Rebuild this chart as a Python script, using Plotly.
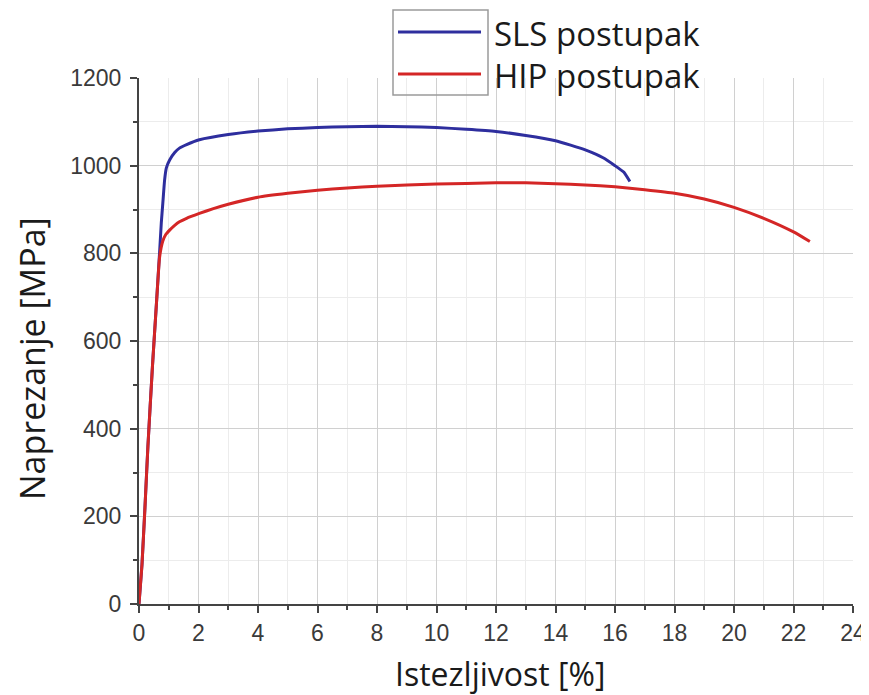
import plotly.graph_objects as go

# Data
sls_strain = [0, 0.1, 0.2, 0.3, 0.45, 0.6, 0.69, 0.75, 0.8, 0.86, 0.92, 1.03, 1.2, 1.36, 1.6, 2.03, 3, 4, 5, 6, 7, 8, 9, 10, 11, 12, 13, 14, 15, 15.6, 16, 16.3, 16.5]
sls_stress = [0, 90, 220, 360, 540, 700, 800, 870, 914, 967, 995, 1013, 1030, 1040, 1048, 1059, 1071, 1079, 1084, 1087, 1089, 1090, 1089, 1087, 1083, 1078, 1069, 1057, 1036, 1018, 1000, 985, 964]

hip_strain = [0, 0.1, 0.2, 0.3, 0.45, 0.6, 0.69, 0.8, 0.9, 1.03, 1.2, 1.36, 1.6, 2.03, 2.5, 3, 4, 5, 6, 7, 8, 10, 12, 13, 14, 15, 16, 17, 18, 19, 20, 21, 22, 22.55]
hip_stress = [0, 90, 220, 360, 540, 700, 790, 828, 843, 853, 864, 872, 880, 891, 902, 912, 928, 937, 944, 949, 953, 958, 961, 961, 959, 956, 952, 945, 937, 924, 905, 880, 849, 827]

series_names = ["SLS postupak", "HIP postupak"]
series_colors = ["#2e2e9e", "#d42626"]

x_ticks = list(range(0, 25, 2))
y_ticks = list(range(0, 1201, 200))

# The page body adds an 8px offset, so the figure is drawn 8px smaller and everything shifted by -8
OFF = 8
W, H = 869 - OFF, 695 - OFF
L, R, T, B = 139 - OFF, 853 - OFF, 78 - OFF, 604 - OFF

fig = go.Figure()
for xs, ys, c in [(sls_strain, sls_stress, series_colors[0]), (hip_strain, hip_stress, series_colors[1])]:
    fig.add_trace(go.Scatter(x=xs, y=ys, mode="lines", line=dict(color=c, width=3, shape="spline", smoothing=0.4),
                             showlegend=False, cliponaxis=False))

def px(xp):
    return (xp - OFF - L) / (R - L)
def py(yp):
    return (B - (yp - OFF)) / (B - T)

# Manual legend
fig.add_shape(type="rect", xref="paper", yref="paper", x0=px(393), x1=px(488), y0=py(95), y1=py(10),
              line=dict(color="#9a9a9a", width=1.5), fillcolor="rgba(0,0,0,0)")
for i, (name, c) in enumerate(zip(series_names, series_colors)):
    yy = [32, 74][i]
    fig.add_shape(type="line", xref="paper", yref="paper", x0=px(398), x1=px(481), y0=py(yy), y1=py(yy),
                  line=dict(color=c, width=3))
    fig.add_annotation(xref="paper", yref="paper", x=px(492), y=py(yy + 1), text=name, showarrow=False,
                       xanchor="left", yanchor="middle", font=dict(family="Open Sans", size=33, color="#1a1a1a"))

# Axis titles
fig.add_annotation(xref="paper", yref="paper", x=px(500), y=py(673), text="Istezljivost [%]", showarrow=False,
                   xanchor="center", yanchor="middle", font=dict(family="Open Sans", size=32, color="#1a1a1a"))
fig.add_annotation(xref="paper", yref="paper", x=px(32), y=py(359), text="Naprezanje [MPa]", showarrow=False,
                   textangle=-90, xanchor="center", yanchor="middle",
                   font=dict(family="Open Sans", size=34, color="#1a1a1a"))

axis_common = dict(showline=True, linecolor="#444", linewidth=2, ticks="outside", ticklen=7, tickwidth=2,
                   tickcolor="#444", showgrid=True, gridcolor="#d0d0d0", gridwidth=1.2, zeroline=False,
                   automargin=False,
                   tickfont=dict(family="Liberation Sans", size=23, color="#3a3a3a"),
                   minor=dict(showgrid=True, gridcolor="#ececec", ticks="outside", ticklen=4, tickcolor="#444", tickwidth=2))

fig.update_xaxes(range=[0, 24], tickvals=x_ticks, **axis_common)
fig.update_xaxes(minor_dtick=1)
fig.update_yaxes(range=[0, 1200], tickvals=y_ticks, ticklabelstandoff=4, **axis_common)
fig.update_yaxes(minor_dtick=100)

fig.update_layout(width=W, height=H, margin=dict(l=L, r=W - R, t=T, b=H - B),
                  plot_bgcolor="white", paper_bgcolor="white")

fig.write_html("out.html")
